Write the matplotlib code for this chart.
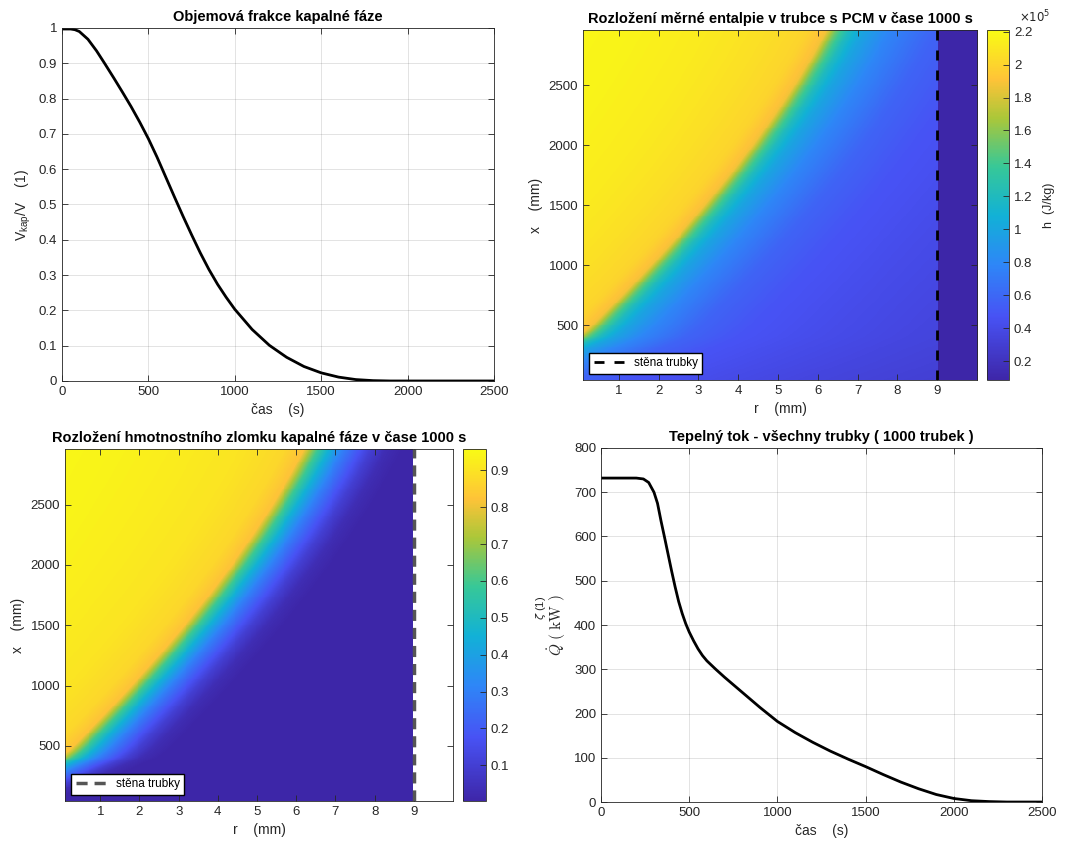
import numpy as np
import matplotlib
matplotlib.use('Agg')
import matplotlib.pyplot as plt
from matplotlib import ticker
from matplotlib.colors import LinearSegmentedColormap

plt.rcParams['font.family'] = ['Liberation Sans', 'DejaVu Sans']
plt.rcParams['font.size'] = 9.5
plt.rcParams['axes.edgecolor'] = '#262626'
plt.rcParams['xtick.color'] = '#262626'
plt.rcParams['ytick.color'] = '#262626'
plt.rcParams['axes.labelcolor'] = '#262626'

# liquid volume fraction over time
t_vol = [0, 50, 75, 100, 150, 200, 250, 300, 350, 400, 450, 500, 550, 600, 650, 700, 750,
         800, 850, 900, 950, 1000, 1100, 1200, 1300, 1400, 1500, 1600, 1700, 1800, 1900, 2500]
v_frac = [0.997, 0.997, 0.995, 0.990, 0.968, 0.935, 0.897, 0.858, 0.818, 0.777, 0.733, 0.686,
          0.634, 0.578, 0.522, 0.467, 0.414, 0.363, 0.316, 0.274, 0.237, 0.203, 0.146, 0.101,
          0.067, 0.041, 0.023, 0.011, 0.004, 0.001, 0.0, 0.0]

# total heat flow of all tubes
t_q = [0, 200, 240, 270, 300, 320, 340, 360, 380, 400, 420, 440, 460, 480, 500, 525, 550,
       575, 600, 650, 700, 800, 900, 1000, 1100, 1200, 1300, 1400, 1500, 1600, 1700, 1800,
       1900, 2000, 2100, 2200, 2300, 2500]
q_kw = [732, 732, 730, 722, 700, 675, 635, 598, 560, 522, 486, 453, 426, 403, 384, 364, 346,
        331, 319, 300, 282, 248, 214, 182, 157, 135, 115, 97, 80, 62, 45, 30,
        17, 8, 3, 1, 0, 0]

# melt front radius along the tube at t = 1000 s
front_x = [40, 150, 250, 330, 400, 450, 500, 600, 750, 1000, 1250, 1500, 1750, 2000, 2250,
           2500, 2750, 2960]
front_r = [-2.8, -1.9, -1.1, -0.55, -0.05, 0.16, 0.33, 0.63, 1.08, 1.8, 2.49, 3.15, 3.77,
           4.35, 4.89, 5.39, 5.85, 6.2]

# enthalpy (1e5 J/kg) vs radial offset from the front (mm)
h_off = [-8, -5, -3, -1.5, -0.5, 0, 0.25, 0.55, 0.9, 1.6, 2.7, 4, 6, 9, 12]
h_val = [2.2, 2.17, 2.12, 2.06, 2.0, 1.88, 1.5, 1.2, 1.0, 0.78, 0.58, 0.48, 0.42, 0.35, 0.3]
h_wall = 0.09

# liquid mass fraction vs radial offset from the front (mm)
z_off = [-8, -5, -3, -1.5, -0.5, 0, 0.33, 0.63, 1.0, 1.35, 1.7, 2.1, 2.5]
z_val = [0.955, 0.94, 0.92, 0.9, 0.87, 0.82, 0.6, 0.45, 0.3, 0.2, 0.1, 0.03, 0.005]

r_wall = 9.0

parula = LinearSegmentedColormap.from_list('parula', [
    (0.00, (0.2422, 0.1504, 0.6603)),
    (0.18, (0.2810, 0.3228, 0.9579)),
    (0.33, (0.1786, 0.5289, 0.9682)),
    (0.47, (0.0689, 0.6948, 0.8394)),
    (0.61, (0.2161, 0.7843, 0.5923)),
    (0.75, (0.6720, 0.7793, 0.2227)),
    (0.86, (0.9970, 0.7659, 0.2199)),
    (1.00, (0.9769, 0.9839, 0.0805)),
])

# grid of cells
r_c = np.linspace(0.1, 10.0, 397)
x_c = np.linspace(42, 2962, 366)
R, X = np.meshgrid(r_c, x_c)
D = R - np.interp(X, front_x, front_r)

H = np.interp(D, h_off, h_val) * 1e5
H[R > r_wall] = h_wall * 1e5
Z = np.interp(D, z_off, z_val)
Z[R > r_wall - 0.05] = np.nan

fig = plt.figure(figsize=(10.71, 8.47), dpi=100)


def style(ax):
    ax.tick_params(direction='in', top=True, right=True, length=4, width=0.6, labelsize=9.5)
    for s in ax.spines.values():
        s.set_linewidth(0.6)


# volume fraction
ax1 = fig.add_axes([0.0579, 0.5502, 0.4034, 0.4168])
ax1.plot(t_vol, v_frac, color='black', lw=2)
ax1.set_xlim(0, 2500)
ax1.set_ylim(0, 1)
ax1.set_xticks(np.arange(0, 2501, 500))
ax1.set_yticks(np.arange(0, 1.01, 0.1))
ax1.yaxis.set_major_formatter(ticker.FormatStrFormatter('%g'))
ax1.grid(True, color='#262626', alpha=0.15, lw=0.6)
ax1.set_title('Objemová frakce kapalné fáze', fontweight='bold', fontsize=10.5, pad=5)
ax1.set_xlabel('čas    (s)', fontsize=10)
ax1.set_ylabel(r'V$_{\mathregular{kap}}$/V    (1)', fontsize=10)
style(ax1)

# enthalpy field
ax2 = fig.add_axes([0.5443, 0.5514, 0.3679, 0.4132])
im2 = ax2.imshow(H, origin='lower', aspect='auto', cmap=parula, interpolation='nearest',
                 extent=[0.1, 10.0, 42, 2962], vmin=0.085e5, vmax=2.21e5)
ax2.plot([r_wall, r_wall], [42, 2962], color='black', lw=2, dashes=(3.6, 3.6),
         label='stěna trubky')
ax2.set_xlim(0.1, 10.0)
ax2.set_ylim(42, 2962)
ax2.set_xticks(range(1, 10))
ax2.set_yticks(range(500, 2501, 500))
ax2.set_title('Rozložení měrné entalpie v trubce s PCM v čase 1000 s', fontweight='bold',
              fontsize=10.5, pad=5)
ax2.set_xlabel('r    (mm)', fontsize=10)
ax2.set_ylabel('x    (mm)', fontsize=10)
ax2.legend(loc='lower left', fancybox=False, edgecolor='black', framealpha=1,
           fontsize=8.5, handlelength=2.6, borderpad=0.4)
style(ax2)

cax2 = fig.add_axes([0.9216, 0.5514, 0.0205, 0.4132])
cb2 = fig.colorbar(im2, cax=cax2)
cb2.set_ticks(np.arange(0.2e5, 2.21e5, 0.2e5))
cb2.ax.yaxis.set_major_formatter(ticker.FuncFormatter(lambda v, p: '%g' % round(v / 1e5, 1)))
cb2.ax.tick_params(direction='in', length=4, width=0.6, labelsize=9.5)
cb2.outline.set_linewidth(0.6)
cb2.set_label('h  (J/kg)', fontsize=9, labelpad=8)
fig.text(0.951, 0.974, r'$\times10^{5}$', fontsize=8.5, color='#262626')

# liquid mass fraction field
ax3 = fig.add_axes([0.0607, 0.0543, 0.3623, 0.4156])
im3 = ax3.imshow(Z, origin='lower', aspect='auto', cmap=parula, interpolation='nearest',
                 extent=[0.1, 10.0, 42, 2962], vmin=0.003, vmax=0.958)
ax3.plot([r_wall, r_wall], [42, 2962], color='#555555', lw=2.5, dashes=(3.2, 2.0),
         label='stěna trubky')
ax3.set_xlim(0.1, 10.0)
ax3.set_ylim(42, 2962)
ax3.set_xticks(range(1, 10))
ax3.set_yticks(range(500, 2501, 500))
ax3.set_title('Rozložení hmotnostního zlomku kapalné fáze v čase 1000 s', fontweight='bold',
              fontsize=10.5, pad=5)
ax3.set_xlabel('r    (mm)', fontsize=10)
ax3.set_ylabel('x    (mm)', fontsize=10)
ax3.legend(loc='lower left', fancybox=False, edgecolor='black', framealpha=1,
           fontsize=8.5, handlelength=2.6, borderpad=0.4)
style(ax3)

cax3 = fig.add_axes([0.4323, 0.0543, 0.0215, 0.4156])
cb3 = fig.colorbar(im3, cax=cax3)
cb3.set_ticks(np.arange(0.1, 0.91, 0.1))
cb3.ax.yaxis.set_major_formatter(ticker.FormatStrFormatter('%g'))
cb3.ax.tick_params(direction='in', length=4, width=0.6, labelsize=9.5)
cb3.outline.set_linewidth(0.6)
fig.text(0.505, 0.282, r'$\zeta$ (1)', rotation=90, fontsize=8, color='#262626',
         va='center', ha='center')

# heat flow
ax4 = fig.add_axes([0.5612, 0.0531, 0.4118, 0.418])
ax4.plot(t_q, q_kw, color='black', lw=2)
ax4.set_xlim(0, 2500)
ax4.set_ylim(0, 800)
ax4.set_xticks(np.arange(0, 2501, 500))
ax4.set_yticks(np.arange(0, 801, 100))
ax4.grid(True, color='#262626', alpha=0.15, lw=0.6)
ax4.set_title('Tepelný tok - všechny trubky ( 1000 trubek )', fontweight='bold',
              fontsize=10.5, pad=5)
ax4.set_xlabel('čas    (s)', fontsize=10)
ax4.set_ylabel(r'$\dot{Q}\ (\ \mathrm{kW}\ )$', fontsize=11, math_fontfamily='cm')
style(ax4)

fig.savefig('out.png', dpi=100)
